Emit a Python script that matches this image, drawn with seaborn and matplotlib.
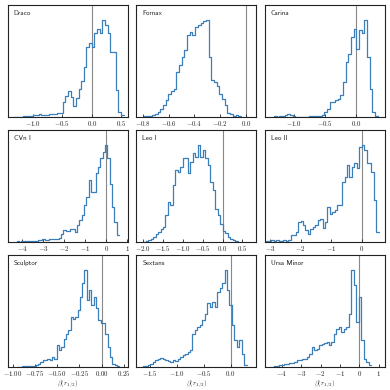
# IMPORTS

import numpy as np
import pandas as pd
import seaborn as sns
import matplotlib.pyplot as plt

sns.set_theme(style="ticks")
plt.rcParams["font.family"] = ["cmr10", "DejaVu Serif"]
plt.rcParams["mathtext.fontset"] = "cm"
plt.rcParams["axes.formatter.use_mathtext"] = True

# DATA (histogram counts, binned over the given range)

galaxies = ["Draco", "Fornax", "Carina", "CVn I", "Leo I", "Leo II",
            "Sculptor", "Sextans", "Ursa Minor"]

draco_range = (-1.35, 0.54)
draco_counts = [1, 0, 1, 1, 2, 2, 3, 4, 5, 7, 8, 6, 6, 7, 10, 10, 10, 11, 12,
                45, 62, 78, 60, 32, 58, 85, 108, 150, 210, 222, 210, 250, 262,
                250, 290, 275, 250, 195, 195, 80, 15, 5]

fornax_range = (-0.79, -0.04)
fornax_counts = [2, 3, 3, 5, 10, 15, 25, 35, 50, 68, 78, 85, 135, 155, 180,
                 200, 245, 253, 245, 270, 275, 280, 288, 290, 180, 110, 105,
                 92, 70, 55, 35, 12, 8, 3, 5, 2]

carina_range = (-1.32, 0.35)
carina_counts = [2, 1, 3, 4, 6, 8, 5, 2, 1, 0, 1, 1, 0, 3, 2, 3, 4, 3, 5, 15,
                 25, 45, 45, 50, 55, 65, 105, 165, 190, 240, 262, 205, 260,
                 250, 290, 180, 85, 15, 3]

cvn_range = (-4.25, 0.6)
cvn_counts = [2, 1, 3, 2, 2, 4, 3, 2, 4, 5, 7, 8, 5, 6, 8, 10, 10, 9, 11, 25,
              35, 33, 32, 38, 40, 30, 50, 65, 80, 110, 135, 185, 150, 150,
              205, 225, 250, 270, 290, 250, 175, 105, 60, 20]

leo1_range = (-2.0, 0.38)
leo1_counts = [1, 3, 5, 10, 15, 25, 30, 40, 45, 80, 120, 110, 170, 215, 210,
               225, 250, 250, 205, 240, 265, 255, 290, 255, 275, 250, 230,
               180, 155, 100, 80, 55, 32, 28, 15, 10, 5, 2]

leo2_range = (-3.12, 0.56)
leo2_counts = [3, 3, 5, 4, 5, 4, 3, 5, 4, 5, 22, 22, 30, 60, 62, 50, 35, 25,
               40, 45, 50, 65, 70, 42, 60, 105, 85, 90, 95, 110, 110, 180,
               195, 230, 195, 225, 235, 220, 285, 290, 275, 235, 235, 210,
               125, 30]

sculptor_range = (-0.95, 0.2)
sculptor_counts = [1, 1, 2, 2, 3, 3, 4, 3, 5, 10, 15, 20, 20, 25, 20, 30, 25,
                   65, 50, 60, 85, 100, 110, 150, 145, 150, 170, 210, 250, 290,
                   200, 230, 185, 210, 175, 140, 132, 132, 100, 60, 30, 10, 5,
                   2]

sextans_range = (-1.68, 0.3)
sextans_counts = [1, 2, 4, 6, 10, 15, 20, 25, 28, 24, 20, 18, 15, 20, 17, 25,
                  30, 35, 40, 45, 52, 100, 110, 120, 125, 140, 160, 190, 180,
                  195, 180, 225, 235, 250, 290, 230, 185, 125, 80, 60, 80, 40,
                  5]

umi_range = (-4.5, 0.6)
umi_counts = [1, 2, 3, 5, 6, 8, 10, 12, 13, 15, 20, 22, 25, 25, 30, 40, 60, 50,
              55, 65, 70, 72, 75, 65, 75, 100, 115, 120, 105, 115, 120, 160,
              290, 245, 135, 210, 80, 25, 15, 5]

ranges = [draco_range, fornax_range, carina_range, cvn_range, leo1_range,
          leo2_range, sculptor_range, sextans_range, umi_range]
counts = [draco_counts, fornax_counts, carina_counts, cvn_counts, leo1_counts,
          leo2_counts, sculptor_counts, sextans_counts, umi_counts]

# axis limits and ticks of each panel
xlims = [(-1.42, 0.61), (-0.85, 0.08), (-1.47, 0.47),
         (-4.68, 1.03), (-2.17, 0.85), (-3.17, 0.76),
         (-1.056, 0.297), (-1.76, 0.48), (-4.87, 1.31)]
xticks = [[-1.0, -0.5, 0.0, 0.5], [-0.8, -0.6, -0.4, -0.2, 0.0], [-1.0, -0.5, 0.0],
          [-4, -3, -2, -1, 0, 1], [-2.0, -1.5, -1.0, -0.5, 0.0, 0.5], [-3, -2, -1, 0],
          [-1.0, -0.75, -0.5, -0.25, 0.0, 0.25], [-1.5, -1.0, -0.5, 0.0],
          [-4, -3, -2, -1, 0, 1]]
tickfmt = ["{:.1f}", "{:.1f}", "{:.1f}", "{:.0f}", "{:.1f}", "{:.0f}",
           "{:.2f}", "{:.1f}", "{:.0f}"]

# VISUALIZATION

fig, axes = plt.subplots(3, 3, figsize=(3.9, 3.9), dpi=100)
fig.subplots_adjust(left=0.02, right=0.987, top=0.987, bottom=0.059,
                    wspace=0.07, hspace=0.116)

for i, ax in enumerate(axes.flat):
    lo, hi = ranges[i]
    n = len(counts[i])
    centers = lo + (np.arange(n) + 0.5) * (hi - lo) / n
    df = pd.DataFrame({"beta": centers, "w": counts[i]})
    sns.histplot(data=df, x="beta", weights="w", bins=n, binrange=(lo, hi),
                 element="step", fill=False, color="#3b7fba", linewidth=0.9,
                 ax=ax)
    ax.axvline(0, color="#888888", lw=0.8, zorder=0)
    ax.set_xlim(*xlims[i])
    ax.set_ylim(0, max(counts[i]) * 335 / 290)
    ax.set_yticks([])
    ax.set_ylabel("")
    ax.set_xticks(xticks[i])
    ax.set_xticklabels(["$" + tickfmt[i].format(t) + "$" for t in xticks[i]])
    ax.tick_params(axis="x", direction="in", length=2.5, width=0.6, pad=1.5,
                   labelsize=5, colors="#222222")
    for s in ax.spines.values():
        s.set_linewidth(0.8)
        s.set_color("#222222")
    ax.text(0.05, 0.955, galaxies[i], transform=ax.transAxes, ha="left",
            va="top", fontsize=5, family=["cmss10", "DejaVu Sans"],
            color="#222222")
    if i >= 6:
        ax.set_xlabel(r"$\beta(r_{1/2})$", fontsize=5, labelpad=0.3)
    else:
        ax.set_xlabel("")

plt.savefig("out.png", dpi=100)
